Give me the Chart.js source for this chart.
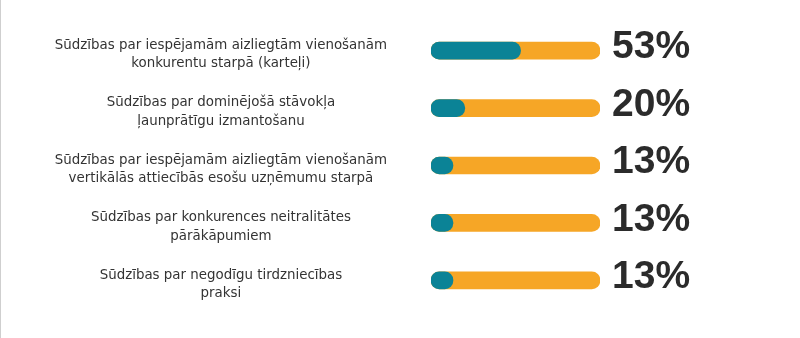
<!DOCTYPE html>
<html>
<head>
<meta charset="utf-8">
<script src="https://cdn.jsdelivr.net/npm/chart.js@4.4.1/dist/chart.umd.min.js"></script>
<style>
    html, body { margin: 0; padding: 0; background: #fff; }
    #wrap { width: 799px; height: 338px; border-left: 1px solid #cfcfcf; position: relative; }
</style>
</head>
<body>
<div id="wrap"><canvas id="complaintsChart"></canvas></div>
<script>
// category labels, already split into lines like the original
const categories = [
    ["Sūdzības par iespējamām aizliegtām vienošanām", "konkurentu starpā (karteļi)"],
    ["Sūdzības par dominējošā stāvokļa", "ļaunprātīgu izmantošanu"],
    ["Sūdzības par iespējamām aizliegtām vienošanām", "vertikālās attiecībās esošu uzņēmumu starpā"],
    ["Sūdzības par konkurences neitralitātes", "pārākāpumiem"],
    ["Sūdzības par negodīgu tirdzniecības", "praksi"]
];
const shares = [53, 20, 13, 13, 13];
const full = [100, 100, 100, 100, 100];

const tealColor = "#0b8396";
const orangeColor = "#f6a626";

// big percent numbers next to each bar
const percentLabels = {
    id: "percentLabels",
    afterDatasetsDraw(chart) {
        const ctx = chart.ctx;
        const xScale = chart.scales.x;
        const yScale = chart.scales.y;
        ctx.save();
        ctx.fillStyle = "#2b2b2b";
        ctx.font = "bold 39px 'Liberation Sans', Arial, sans-serif";
        ctx.textAlign = "left";
        ctx.textBaseline = "middle";
        shares.forEach((v, i) => {
            const x = xScale.getPixelForValue(100) + 12;
            const y = yScale.getPixelForValue(i) - 3;
            ctx.fillText(v + "%", x, y);
        });
        ctx.restore();
    }
};

const ctx = document.getElementById("complaintsChart").getContext("2d");
const chart = new Chart(ctx, {
    type: "bar",
    data: {
        labels: categories,
        datasets: [
            {
                label: "Daļa",
                data: shares,
                backgroundColor: tealColor,
                borderRadius: 9,
                borderSkipped: false,
                barThickness: 17,
                grouped: false
            },
            {
                label: "Kopā",
                data: full,
                backgroundColor: orangeColor,
                borderRadius: 9,
                borderSkipped: false,
                barThickness: 17,
                grouped: false
            }
        ]
    },
    options: {
        indexAxis: "y",
        responsive: true,
        maintainAspectRatio: false,
        animation: false,
        layout: {
            padding: { left: 0, right: 200, top: 22, bottom: 29 }
        },
        plugins: {
            legend: { display: false },
            tooltip: { enabled: false }
        },
        scales: {
            x: {
                display: false,
                min: 0,
                max: 100
            },
            y: {
                weight: 1,
                grid: { display: false },
                border: { display: false },
                afterFit(scale) { scale.width = 396; },
                ticks: {
                    crossAlign: "center",
                    padding: 2,
                    labelOffset: 4,
                    color: "#333333",
                    font: { family: "'DejaVu Sans', sans-serif", size: 13.4, lineHeight: 1.38 }
                }
            },
            // empty gap between the labels and the bars
            gap: {
                type: "category",
                position: "left",
                weight: 0,
                grid: { display: false },
                border: { display: false },
                ticks: { display: false },
                afterFit(scale) { scale.width = 34; }
            }
        }
    },
    plugins: [percentLabels]
});
</script>
</body>
</html>
